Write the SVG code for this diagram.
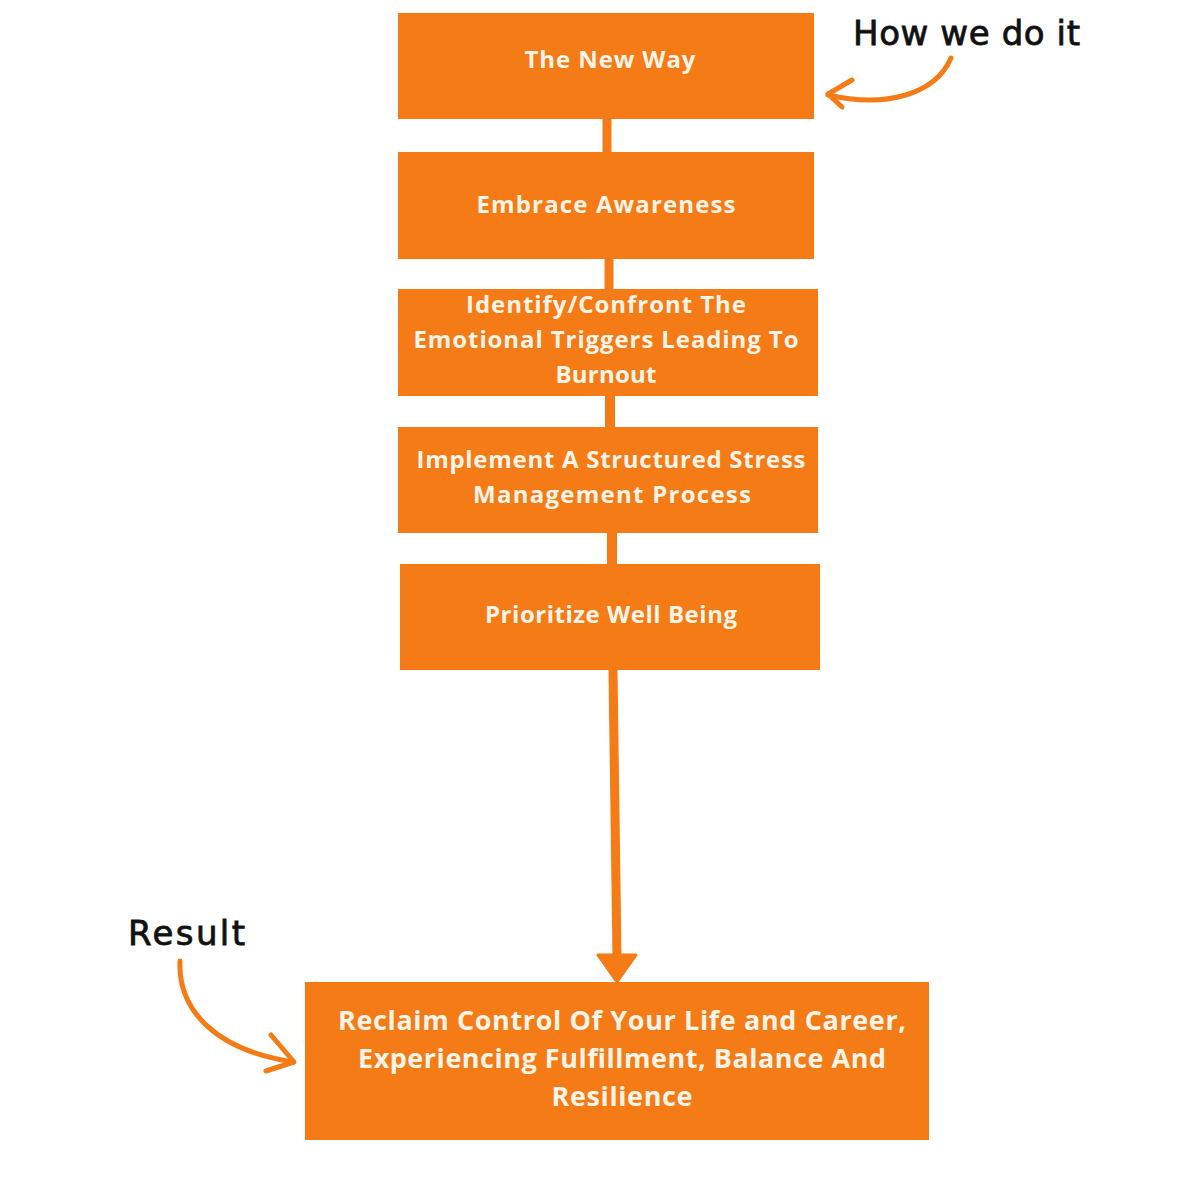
<svg xmlns="http://www.w3.org/2000/svg" width="1200" height="1200" viewBox="0 0 1200 1200">
<style>
.box{fill:#F47B16;}
.t{font-family:"Open Sans","Noto Sans",sans-serif;font-weight:700;fill:#FFF4E8;text-anchor:middle;font-size:24px;}
.t6{font-size:27px;}
.hand{font-family:"DejaVu Sans","Liberation Sans",sans-serif;fill:#111;font-size:34px;stroke:#111;stroke-width:0.8;}
.conn{stroke:#F47B16;fill:none;}
.curve{stroke:#F47B16;fill:none;stroke-width:5;stroke-linecap:round;stroke-linejoin:round;}
</style>
<rect width="1200" height="1200" fill="#FFFFFF"/>
<g id="connectors">
<line class="conn" x1="607" y1="118" x2="607" y2="153" stroke-width="9"/>
<line class="conn" x1="609" y1="258" x2="609" y2="290" stroke-width="9"/>
<line class="conn" x1="610" y1="395" x2="610" y2="428" stroke-width="10"/>
<line class="conn" x1="612" y1="532" x2="612" y2="565" stroke-width="10"/>
<path class="conn" d="M613 670 L617 958" stroke-width="9"/>
<path d="M598 955 L636 955 L617 982 Z" fill="#F47B16" stroke="#F47B16" stroke-width="3" stroke-linejoin="round"/>
<path class="curve" d="M951 58 C935 95 885 108 828 95"/>
<path class="curve" d="M852 80 L828 94 L842 107"/>
<path class="curve" d="M180 961 C178 1010 215 1050 293 1062"/>
<path class="curve" d="M271 1035 L294 1062 L266 1071"/>
</g>
<g id="node1"><rect class="box" x="398" y="13" width="416" height="106"/><text class="t" x="610" y="68" textLength="171">The New Way</text></g>
<g id="node2"><rect class="box" x="398" y="152" width="416" height="107"/><text class="t" x="606" y="213" textLength="259">Embrace Awareness</text></g>
<g id="node3"><rect class="box" x="398" y="289" width="420" height="107"/>
<text class="t" x="606" y="313" textLength="280">Identify/Confront The</text>
<text class="t" x="606" y="348" textLength="385">Emotional Triggers Leading To</text>
<text class="t" x="606" y="383" textLength="101">Burnout</text></g>
<g id="node4"><rect class="box" x="398" y="427" width="420" height="106"/>
<text class="t" x="611" y="468" textLength="389">Implement A Structured Stress</text>
<text class="t" x="612" y="503" textLength="278">Management Process</text></g>
<g id="node5"><rect class="box" x="400" y="564" width="420" height="106"/><text class="t" x="611" y="623" textLength="252">Prioritize Well Being</text></g>
<g id="node6"><rect class="box" x="305" y="982" width="624" height="158"/>
<text class="t t6" x="622" y="1030" textLength="568">Reclaim Control Of Your Life and Career,</text>
<text class="t t6" x="622" y="1068" textLength="528">Experiencing Fulfillment, Balance And</text>
<text class="t t6" x="622" y="1106" textLength="141">Resilience</text></g>
<g id="label-how"><text class="hand" x="853" y="45" textLength="227">How we do it</text></g>
<g id="label-result"><text class="hand" x="128" y="945" textLength="117">Result</text></g>
</svg>
